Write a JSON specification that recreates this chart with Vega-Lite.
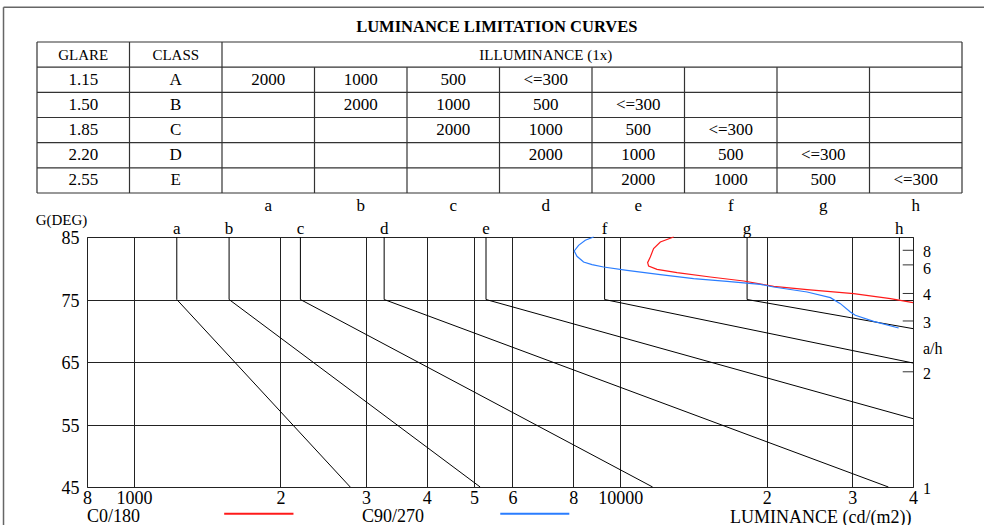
{
  "$schema": "https://vega.github.io/schema/vega-lite/v6.json",
  "width": 826,
  "height": 250,
  "autosize": {"type": "none"},
  "padding": {"left": 87, "top": 237, "right": 71, "bottom": 38},
  "background": "white",
  "config": {
    "font": "Liberation Serif",
    "view": {"stroke": "#444", "strokeWidth": 1},
    "axis": {"labelColor": "black", "titleColor": "black", "labelFont": "Liberation Serif", "titleFont": "Liberation Serif"}
  },
  "datasets": {
    "curves": [
      {"curve": "a", "i": 0, "L": 1224, "G": 85}, {"curve": "a", "i": 1, "L": 1224, "G": 75}, {"curve": "a", "i": 2, "L": 2783, "G": 45},
      {"curve": "b", "i": 0, "L": 1568, "G": 85}, {"curve": "b", "i": 1, "L": 1568, "G": 75}, {"curve": "b", "i": 2, "L": 5150, "G": 45},
      {"curve": "c", "i": 0, "L": 2198, "G": 85}, {"curve": "c", "i": 1, "L": 2198, "G": 75}, {"curve": "c", "i": 2, "L": 11655, "G": 45},
      {"curve": "d", "i": 0, "L": 3268, "G": 85}, {"curve": "d", "i": 1, "L": 3268, "G": 75}, {"curve": "d", "i": 2, "L": 35600, "G": 45},
      {"curve": "e", "i": 0, "L": 5294, "G": 85}, {"curve": "e", "i": 1, "L": 5294, "G": 75}, {"curve": "e", "i": 2, "L": 40000, "G": 55.94},
      {"curve": "f", "i": 0, "L": 9284, "G": 85}, {"curve": "f", "i": 1, "L": 9284, "G": 75}, {"curve": "f", "i": 2, "L": 40000, "G": 64.84},
      {"curve": "g", "i": 0, "L": 18230, "G": 85}, {"curve": "g", "i": 1, "L": 18230, "G": 75}, {"curve": "g", "i": 2, "L": 40000, "G": 70.34},
      {"curve": "h", "i": 0, "L": 37500, "G": 85}, {"curve": "h", "i": 1, "L": 37500, "G": 75}
    ],
    "letters": [
      {"label": "a", "L": 1224}, {"label": "b", "L": 1568}, {"label": "c", "L": 2198}, {"label": "d", "L": 3268},
      {"label": "e", "L": 5294}, {"label": "f", "L": 9284}, {"label": "g", "L": 18230}, {"label": "h", "L": 37500}
    ],
    "lum": [
      {"series": "C0/180", "i": 0, "L": 12875, "G": 85},
      {"series": "C0/180", "i": 1, "L": 12087, "G": 84.2},
      {"series": "C0/180", "i": 2, "L": 11708, "G": 83.14},
      {"series": "C0/180", "i": 3, "L": 11527, "G": 81.8},
      {"series": "C0/180", "i": 4, "L": 11382, "G": 80.9},
      {"series": "C0/180", "i": 5, "L": 11435, "G": 80.36},
      {"series": "C0/180", "i": 6, "L": 11900, "G": 79.83},
      {"series": "C0/180", "i": 7, "L": 13085, "G": 79.3},
      {"series": "C0/180", "i": 8, "L": 15318, "G": 78.6},
      {"series": "C0/180", "i": 9, "L": 17937, "G": 77.96},
      {"series": "C0/180", "i": 10, "L": 20677, "G": 77.11},
      {"series": "C0/180", "i": 11, "L": 24226, "G": 76.58},
      {"series": "C0/180", "i": 12, "L": 30200, "G": 75.94},
      {"series": "C0/180", "i": 13, "L": 35950, "G": 75.14},
      {"series": "C0/180", "i": 14, "L": 40000, "G": 74.5},
      {"series": "C90/270", "i": 0, "L": 8813, "G": 85},
      {"series": "C90/270", "i": 1, "L": 8472, "G": 84.47},
      {"series": "C90/270", "i": 2, "L": 8207, "G": 83.67},
      {"series": "C90/270", "i": 3, "L": 8040, "G": 82.76},
      {"series": "C90/270", "i": 4, "L": 8145, "G": 81.91},
      {"series": "C90/270", "i": 5, "L": 8404, "G": 81.0},
      {"series": "C90/270", "i": 6, "L": 8746, "G": 80.58},
      {"series": "C90/270", "i": 7, "L": 9240, "G": 80.2},
      {"series": "C90/270", "i": 8, "L": 10323, "G": 79.67},
      {"series": "C90/270", "i": 9, "L": 12087, "G": 78.98},
      {"series": "C90/270", "i": 10, "L": 14152, "G": 78.34},
      {"series": "C90/270", "i": 11, "L": 16580, "G": 77.9},
      {"series": "C90/270", "i": 12, "L": 19415, "G": 77.43},
      {"series": "C90/270", "i": 13, "L": 20677, "G": 77.0},
      {"series": "C90/270", "i": 14, "L": 24226, "G": 76.2},
      {"series": "C90/270", "i": 15, "L": 27050, "G": 75.3},
      {"series": "C90/270", "i": 16, "L": 28360, "G": 74.34},
      {"series": "C90/270", "i": 17, "L": 29730, "G": 73.0},
      {"series": "C90/270", "i": 18, "L": 30440, "G": 72.47},
      {"series": "C90/270", "i": 19, "L": 33200, "G": 71.51},
      {"series": "C90/270", "i": 20, "L": 37370, "G": 70.44}
    ],
    "ahticks": [
      {"ah": "8", "G": 82.875}, {"ah": "6", "G": 80.538}, {"ah": "4", "G": 75.964}, {"ah": "3", "G": 71.565}, {"ah": "2", "G": 63.435}
    ],
    "ahlabels": [
      {"label": "8", "G": 83.0}, {"label": "6", "G": 80.2}, {"label": "4", "G": 75.964}, {"label": "3", "G": 71.565},
      {"label": "a/h", "G": 67.35}, {"label": "2", "G": 63.435}, {"label": "1", "G": 45}
    ],
    "legendlines": [
      {"series": "C0/180", "L1": 1532, "L2": 2127, "G": 40.74},
      {"series": "C90/270", "L1": 5664, "L2": 7855, "G": 40.74}
    ],
    "legendtext": [
      {"label": "C0/180", "L": 800, "G": 39.4},
      {"label": "C90/270", "L": 2941, "G": 39.4}
    ],
    "tlines": [
      {"c1": 0, "r1": 0, "c2": 10, "r2": 0}, {"c1": 0, "r1": 1, "c2": 10, "r2": 1}, {"c1": 0, "r1": 2, "c2": 10, "r2": 2},
      {"c1": 0, "r1": 3, "c2": 10, "r2": 3}, {"c1": 0, "r1": 4, "c2": 10, "r2": 4}, {"c1": 0, "r1": 5, "c2": 10, "r2": 5},
      {"c1": 0, "r1": 6, "c2": 10, "r2": 6},
      {"c1": 0, "r1": 0, "c2": 0, "r2": 6}, {"c1": 1, "r1": 0, "c2": 1, "r2": 6}, {"c1": 2, "r1": 0, "c2": 2, "r2": 6},
      {"c1": 3, "r1": 1, "c2": 3, "r2": 6}, {"c1": 4, "r1": 1, "c2": 4, "r2": 6}, {"c1": 5, "r1": 1, "c2": 5, "r2": 6},
      {"c1": 6, "r1": 1, "c2": 6, "r2": 6}, {"c1": 7, "r1": 1, "c2": 7, "r2": 6}, {"c1": 8, "r1": 1, "c2": 8, "r2": 6},
      {"c1": 9, "r1": 1, "c2": 9, "r2": 6}, {"c1": 10, "r1": 0, "c2": 10, "r2": 6}
    ],
    "frame": [
      {"c1": -0.362, "r1": -1.379, "c2": 10.4, "r2": -1.379},
      {"c1": -0.362, "r1": -1.379, "c2": -0.362, "r2": 19.5}
    ],
    "cells": [
      {"c": 0.5, "r": 0.5, "text": "GLARE", "kind": "word"},
      {"c": 1.5, "r": 0.5, "text": "CLASS", "kind": "word"},
      {"c": 5.5, "r": 0.5, "text": "ILLUMINANCE (1x)", "kind": "word"},
      {"c": 0.5, "r": 1.5, "text": "1.15", "kind": "num"}, {"c": 1.5, "r": 1.5, "text": "A", "kind": "num"},
      {"c": 2.5, "r": 1.5, "text": "2000", "kind": "num"}, {"c": 3.5, "r": 1.5, "text": "1000", "kind": "num"},
      {"c": 4.5, "r": 1.5, "text": "500", "kind": "num"}, {"c": 5.5, "r": 1.5, "text": "<=300", "kind": "num"},
      {"c": 0.5, "r": 2.5, "text": "1.50", "kind": "num"}, {"c": 1.5, "r": 2.5, "text": "B", "kind": "num"},
      {"c": 3.5, "r": 2.5, "text": "2000", "kind": "num"}, {"c": 4.5, "r": 2.5, "text": "1000", "kind": "num"},
      {"c": 5.5, "r": 2.5, "text": "500", "kind": "num"}, {"c": 6.5, "r": 2.5, "text": "<=300", "kind": "num"},
      {"c": 0.5, "r": 3.5, "text": "1.85", "kind": "num"}, {"c": 1.5, "r": 3.5, "text": "C", "kind": "num"},
      {"c": 4.5, "r": 3.5, "text": "2000", "kind": "num"}, {"c": 5.5, "r": 3.5, "text": "1000", "kind": "num"},
      {"c": 6.5, "r": 3.5, "text": "500", "kind": "num"}, {"c": 7.5, "r": 3.5, "text": "<=300", "kind": "num"},
      {"c": 0.5, "r": 4.5, "text": "2.20", "kind": "num"}, {"c": 1.5, "r": 4.5, "text": "D", "kind": "num"},
      {"c": 5.5, "r": 4.5, "text": "2000", "kind": "num"}, {"c": 6.5, "r": 4.5, "text": "1000", "kind": "num"},
      {"c": 7.5, "r": 4.5, "text": "500", "kind": "num"}, {"c": 8.5, "r": 4.5, "text": "<=300", "kind": "num"},
      {"c": 0.5, "r": 5.5, "text": "2.55", "kind": "num"}, {"c": 1.5, "r": 5.5, "text": "E", "kind": "num"},
      {"c": 6.5, "r": 5.5, "text": "2000", "kind": "num"}, {"c": 7.5, "r": 5.5, "text": "1000", "kind": "num"},
      {"c": 8.5, "r": 5.5, "text": "500", "kind": "num"}, {"c": 9.5, "r": 5.5, "text": "<=300", "kind": "num"}
    ],
    "collabels": [
      {"c": 2.5, "label": "a"}, {"c": 3.5, "label": "b"}, {"c": 4.5, "label": "c"}, {"c": 5.5, "label": "d"},
      {"c": 6.5, "label": "e"}, {"c": 7.5, "label": "f"}, {"c": 8.5, "label": "g"}, {"c": 9.5, "label": "h"}
    ],
    "title": [
      {"c": 4.97, "r": -0.6, "text": "LUMINANCE LIMITATION CURVES"}
    ]
  },
  "layer": [
    {
      "layer": [
        {
          "data": {"name": "curves"},
          "mark": {"type": "line", "color": "black", "strokeWidth": 1},
          "encoding": {
            "x": {
              "field": "L", "type": "quantitative",
              "scale": {"type": "log", "domain": [800, 40000], "nice": false},
              "axis": {
                "values": [800, 1000, 2000, 3000, 4000, 5000, 6000, 8000, 10000, 20000, 30000, 40000],
                "labelExpr": "datum.value == 1000 || datum.value == 10000 ? datum.value + '' : substring(datum.value + '', 0, 1)",
                "labelFontSize": 18, "labelFlush": false, "labelBaseline": "top", "labelPadding": 2,
                "ticks": false, "tickSize": 0, "domain": false,
                "grid": true, "gridColor": "#222", "gridOpacity": 1, "gridWidth": 1,
                "title": "LUMINANCE (cd/(m2))", "titleFontSize": 18, "titleFontWeight": "normal",
                "titleAlign": "right", "titleBaseline": "alphabetic", "titleX": 824, "titleY": 35
              }
            },
            "y": {
              "field": "G", "type": "quantitative",
              "scale": {"domain": [45, 85], "nice": false, "zero": false},
              "axis": {
                "values": [45, 55, 65, 75, 85],
                "labelFontSize": 18, "labelPadding": 8, "labelOffset": 1.5, "labelFlush": false,
                "ticks": false, "tickSize": 0, "domain": false,
                "grid": true, "gridColor": "#222", "gridOpacity": 1, "gridWidth": 1,
                "title": "G(DEG)", "titleAngle": 0, "titleFontSize": 15, "titleFontWeight": "normal",
                "titleAlign": "center", "titleBaseline": "alphabetic", "titleX": -26, "titleY": -13
              }
            },
            "detail": {"field": "curve"},
            "order": {"field": "i"}
          }
        },
        {
          "data": {"name": "lum"},
          "mark": {"type": "line", "strokeWidth": 1.2},
          "encoding": {
            "x": {"field": "L", "type": "quantitative"},
            "y": {"field": "G", "type": "quantitative"},
            "color": {"field": "series", "type": "nominal", "scale": {"domain": ["C0/180", "C90/270"], "range": ["#ff1a1a", "#2a7dff"]}, "legend": null},
            "order": {"field": "i"}
          }
        },
        {
          "data": {"name": "letters"},
          "mark": {"type": "text", "fontSize": 17, "baseline": "alphabetic", "dy": -3.5, "color": "black"},
          "encoding": {
            "x": {"field": "L", "type": "quantitative"},
            "y": {"datum": 85, "type": "quantitative"},
            "text": {"field": "label"}
          }
        },
        {
          "data": {"name": "ahticks"},
          "mark": {"type": "rule", "color": "#333", "strokeWidth": 1},
          "encoding": {
            "x": {"datum": 38100, "type": "quantitative"},
            "x2": {"datum": 40000},
            "y": {"field": "G", "type": "quantitative"}
          }
        },
        {
          "data": {"name": "ahlabels"},
          "mark": {"type": "text", "fontSize": 16, "align": "left", "baseline": "middle", "dx": 10, "dy": 2, "color": "black"},
          "encoding": {
            "x": {"datum": 40000, "type": "quantitative"},
            "y": {"field": "G", "type": "quantitative"},
            "text": {"field": "label"}
          }
        },
        {
          "data": {"name": "legendlines"},
          "mark": {"type": "rule", "strokeWidth": 2},
          "encoding": {
            "x": {"field": "L1", "type": "quantitative"},
            "x2": {"field": "L2"},
            "y": {"field": "G", "type": "quantitative"},
            "color": {"field": "series", "type": "nominal", "legend": null}
          }
        },
        {
          "data": {"name": "legendtext"},
          "mark": {"type": "text", "fontSize": 18, "align": "left", "baseline": "alphabetic", "color": "black"},
          "encoding": {
            "x": {"field": "L", "type": "quantitative"},
            "y": {"field": "G", "type": "quantitative"},
            "text": {"field": "label"}
          }
        }
      ]
    },
    {
      "layer": [
        {
          "data": {"name": "tlines"},
          "mark": {"type": "rule", "color": "#333", "strokeWidth": 1.2},
          "encoding": {
            "x": {"field": "c1", "type": "quantitative", "scale": {"domain": [0, 10], "range": [-50, 875], "nice": false, "zero": false}, "axis": null},
            "x2": {"field": "c2"},
            "y": {"field": "r1", "type": "quantitative", "scale": {"domain": [0, 6], "range": [-195, -44], "nice": false, "zero": false}, "axis": null},
            "y2": {"field": "r2"}
          }
        },
        {
          "data": {"name": "frame"},
          "mark": {"type": "rule", "color": "#666", "strokeWidth": 1.5},
          "encoding": {
            "x": {"field": "c1", "type": "quantitative", "axis": null},
            "x2": {"field": "c2"},
            "y": {"field": "r1", "type": "quantitative", "axis": null},
            "y2": {"field": "r2"}
          }
        },
        {
          "data": {"name": "cells"},
          "mark": {"type": "text", "baseline": "middle", "align": "center", "color": "black"},
          "encoding": {
            "x": {"field": "c", "type": "quantitative", "axis": null},
            "y": {"field": "r", "type": "quantitative", "axis": null},
            "text": {"field": "text"},
            "size": {"field": "kind", "type": "nominal", "scale": {"domain": ["word", "num"], "range": [15, 17]}, "legend": null}
          }
        },
        {
          "data": {"name": "collabels"},
          "mark": {"type": "text", "baseline": "middle", "align": "center", "fontSize": 17, "color": "black"},
          "encoding": {
            "x": {"field": "c", "type": "quantitative", "axis": null},
            "y": {"datum": 6.5, "type": "quantitative", "axis": null},
            "text": {"field": "label"}
          }
        },
        {
          "data": {"name": "title"},
          "mark": {"type": "text", "baseline": "middle", "align": "center", "fontSize": 16.5, "fontWeight": "bold", "color": "black"},
          "encoding": {
            "x": {"field": "c", "type": "quantitative", "axis": null},
            "y": {"field": "r", "type": "quantitative", "axis": null},
            "text": {"field": "text"}
          }
        }
      ]
    }
  ],
  "resolve": {"scale": {"x": "independent", "y": "independent", "color": "shared", "size": "independent"}}
}
